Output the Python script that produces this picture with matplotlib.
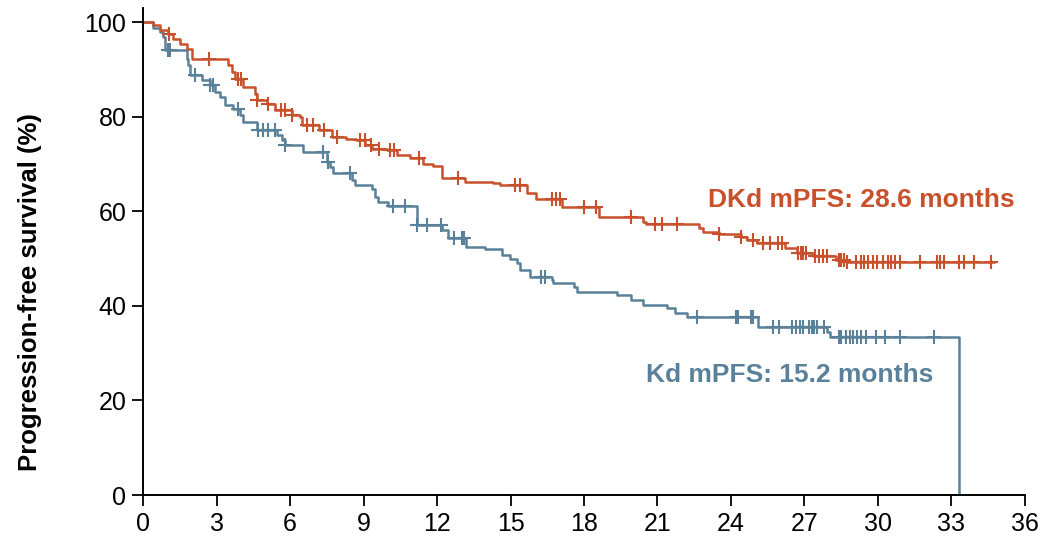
import numpy as np
import matplotlib
matplotlib.use('Agg')
import matplotlib.pyplot as plt

# DKd arm: step times (months) and survival (%) after each step
dkd_t = [0, 0.42, 0.7, 1.03, 1.24, 1.5, 1.78, 1.98, 3.48, 3.62, 3.76, 4.1, 4.57, 4.64, 5.05,
         5.39, 6.1, 6.4, 6.5, 7.2, 7.7, 8.3, 8.7, 9.06, 9.33, 9.95, 10.35, 10.9, 11.44,
         11.85, 12.2, 13.14, 14.3, 14.57, 15.66, 16.05, 17.1, 18.6, 20.4, 20.55, 22.7,
         22.85, 23.5, 24.4, 24.65, 25.05, 26.2, 26.7, 27.35, 28.3, 28.7, 34.75]
dkd_s = [100, 99.4, 98.3, 97.6, 96.5, 95.5, 94.4, 92.3, 90.9, 89.5, 88.1, 86.3, 84.9, 83.5, 82.8,
         81.4, 80.3, 80, 78.2, 77.2, 75.7, 75.4, 75, 74, 73.3, 72.9, 71.9, 71.2, 70.1,
         69.6, 67, 66.2, 65.9, 65.5, 63.8, 62.6, 60.9, 58.8, 57.8, 57.4, 56.4,
         55.7, 55.2, 54.6, 53.9, 53.4, 52.2, 51.1, 50.5, 49.7, 49.3, 49.3]
dkd_cens = [1.06, 2.69, 3.86, 4.0, 4.64, 5.1, 5.65, 5.8, 6.1, 6.68, 6.95, 7.4, 7.9, 8.85, 9.05,
            9.3, 9.65, 10.1, 10.25, 11.25, 12.84, 15.2, 15.4, 16.7, 16.85, 17.0, 18.0, 18.5,
            19.9, 20.9, 21.2, 21.8, 23.5, 24.4, 24.9, 25.3, 25.6, 25.9, 26.1, 26.75, 26.85,
            26.95, 27.05, 27.45, 27.6, 27.75, 27.9, 28.4, 28.5, 28.6, 28.75, 29.1, 29.3,
            29.45, 29.6, 29.8, 29.95, 30.2, 30.4, 30.55, 30.7, 30.9, 31.7, 32.4, 32.55,
            32.7, 33.3, 33.5, 33.9, 34.6]

# Kd arm
kd_t = [0, 0.42, 0.7, 0.83, 0.9, 1.78, 1.85, 1.92, 2.4, 2.73, 2.94, 3.14, 3.35, 3.69, 3.96,
        4.1, 4.64, 5.45, 5.66, 5.8, 6.54, 7.5, 7.63, 7.77, 8.52, 8.65, 9.33, 9.47, 9.6,
        10.0, 11.17, 12.19, 12.46, 13.2, 13.95, 14.65, 14.98, 15.25, 15.4, 15.8, 16.7,
        16.75, 17.6, 17.7, 19.35, 19.9, 20.4, 21.37, 21.7, 22.2, 25.1, 27.9, 28.05, 33.3]
kd_s = [100, 98.7, 98, 96.9, 94.1, 92.3, 90.9, 88.8, 87.7, 86.7, 85.3, 84.2, 82.5, 81.7, 80.3,
        78.9, 77.2, 76.1, 75, 74, 72.6, 70.5, 69.4, 68.2, 66.6, 65.5, 64.8, 63.1, 62,
        61.2, 57.1, 56, 54.3, 52.5, 52, 50.7, 50, 49, 47.6, 46.2, 45.5,
        44.8, 44, 43, 42.3, 41.2, 40.2, 39.5, 38.4, 37.7, 35.6, 34.5, 33.5, 0]
kd_cens = [1.0, 1.1, 2.12, 2.73, 2.86, 3.86, 4.7, 4.9, 5.1, 5.37, 5.8, 7.35, 7.57, 8.45, 10.2,
           10.7, 11.2, 11.6, 12.15, 12.7, 13.0, 13.1, 16.25, 16.4, 22.6, 24.2, 24.3, 24.8,
           24.9, 25.7, 25.95, 26.5, 26.65, 26.8, 26.95, 27.2, 27.3, 27.4, 27.5, 27.8,
           28.4, 28.5, 28.7, 28.85, 29.0, 29.15, 29.3, 29.5, 29.9, 30.3, 30.9, 32.3]

dkd_label = 'DKd mPFS: 28.6 months'
kd_label = 'Kd mPFS: 15.2 months'
xticks = list(range(0, 37, 3))
yticks = [0, 20, 40, 60, 80, 100]

c_dkd = '#C8512C'
c_kd = '#5A819A'


def cens_y(t, s, c):
    idx = np.searchsorted(t, c, side='right') - 1
    return np.array(s)[idx]


fig = plt.figure(figsize=(10.48, 5.4), dpi=100)
ax = fig.add_axes([0.1365, 0.0833, 0.978 - 0.1365, 0.985 - 0.0833])

for t, s, cens, col in [(kd_t, kd_s, kd_cens, c_kd), (dkd_t, dkd_s, dkd_cens, c_dkd)]:
    ax.step(t, s, where='post', color=col, lw=1.8)
    ax.plot(cens, cens_y(t, s, cens), ls='none', marker='+', ms=10, mew=1.5, color=col)

ax.text(29.3, 62.4, dkd_label, color=c_dkd, fontsize=19, fontweight='bold',
        family='Liberation Sans', ha='center', va='center')
ax.text(26.4, 25.4, kd_label, color=c_kd, fontsize=19, fontweight='bold',
        family='Liberation Sans', ha='center', va='center')

ax.set_xlim(0, 36)
ax.set_ylim(0, 103)
ax.set_xticks(xticks)
ax.set_yticks(yticks)
for lab in ax.get_xticklabels() + ax.get_yticklabels():
    lab.set_family('Liberation Sans')
    lab.set_fontsize(18)
ax.tick_params(direction='out', length=8, width=1.3, color='black', pad=4)
ax.spines['top'].set_visible(False)
ax.spines['right'].set_visible(False)
ax.spines['left'].set_linewidth(1.4)
ax.spines['bottom'].set_linewidth(1.4)
fig.text(30 / 1048, 0.46, 'Progression-free survival (%)', rotation=90, fontsize=18.5,
         fontweight='bold', family='Liberation Sans', ha='center', va='center')

fig.savefig('out.png', dpi=100)
